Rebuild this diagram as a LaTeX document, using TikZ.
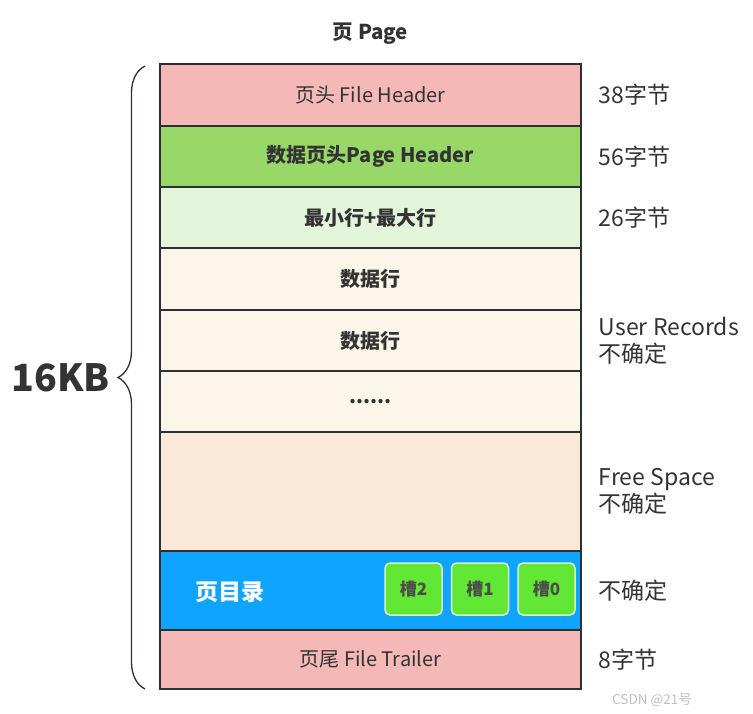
\documentclass[tikz,border=0pt]{standalone}
\usepackage{fontspec}
\setmainfont{Noto Sans CJK SC}
\usepackage{tikz}
\usetikzlibrary{positioning,decorations.pathreplacing}

\definecolor{linec}{HTML}{2B2F36}
\definecolor{textc}{HTML}{333333}
\definecolor{headc}{HTML}{F4B8B6}
\definecolor{pghc}{HTML}{97D869}
\definecolor{minmaxc}{HTML}{E3F5DA}
\definecolor{recc}{HTML}{FBF6E9}
\definecolor{freec}{HTML}{FAE8D9}
\definecolor{dirc}{HTML}{0FA4FF}
\definecolor{slotc}{HTML}{62E834}
\definecolor{slotb}{HTML}{D6F5C9}

\tikzset{
  row/.style={draw=linec, line width=1.5pt, minimum width=421pt, inner sep=0pt,
    text=textc, font=\fontsize{20}{24}\selectfont},
  boldrow/.style={row, font=\fontsize{20}{24}\selectfont\bfseries},
  slot/.style={draw=slotb, fill=slotc, line width=1.5pt, rounded corners=5pt,
    minimum width=57pt, minimum height=52pt, inner sep=0pt,
    text=black!70, font=\fontsize{17}{20}\selectfont\bfseries},
  sizelab/.style={anchor=west, align=left, inner sep=0pt, text=textc,
    font=\fontsize{23}{27}\selectfont}
}

\begin{document}
\begin{tikzpicture}[x=1pt,y=-1pt]
  \useasboundingbox (0,0) rectangle (753,714);

  \node (title) at (370.5,34) [text=textc, font=\fontsize{20.5}{24}\selectfont\bfseries] {页 Page};

  % page rows, top to bottom
  \node (fh) [row, fill=headc, minimum height=62pt] at (370.5,95) {页头 File Header};
  \node (ph) [boldrow, fill=pghc, minimum height=61pt] at (370.5,156.5) {数据页头Page Header};
  \node (mm) [boldrow, fill=minmaxc, minimum height=61pt] at (370.5,217.5) {最小行+最大行};
  \node (r1) [boldrow, fill=recc, minimum height=62pt] at (370.5,279) {数据行};
  \node (r2) [boldrow, fill=recc, minimum height=61pt] at (370.5,340.5) {数据行};
  \node (r3) [boldrow, fill=recc, minimum height=61pt] at (370.5,401.5) {......};
  \node (fs) [row, fill=freec, minimum height=119pt] at (370.5,491.5) {};
  \node (pd) [row, fill=dirc, minimum height=79pt] at (370.5,590.5) {};
  \node (ft) [row, fill=headc, minimum height=59pt] at (370.5,659.5) {页尾 File Trailer};

  % page directory
  \node (pdlab) at (230,592) [text=white, font=\fontsize{23}{27}\selectfont\bfseries] {页目录};
  \node (s2) [slot] at (413.5,589) {槽2};
  \node (s1) [slot, right=8pt of s2] {槽1};
  \node (s0) [slot, right=8pt of s1] {槽0};

  % sizes
  \node (lfh) [sizelab, right=17pt of fh] {38字节};
  \node (lph) [sizelab, right=17pt of ph] {56字节};
  \node (lmm) [sizelab, right=17pt of mm] {26字节};
  \node (lrec) [sizelab, right=17pt of r2] {User Records\\不确定};
  \node (lfs) [sizelab, right=17pt of fs] {Free Space\\不确定};
  \node (lpd) [sizelab, right=17pt of pd] {不确定};
  \node (lft) [sizelab, right=17pt of ft] {8字节};

  % whole page
  \coordinate (btop) at (145,66);
  \coordinate (bbot) at (145,689);
  \draw[linec, line width=1.3pt, decorate, decoration={brace, amplitude=27pt}] (bbot) -- (btop);
  \node (kb) [anchor=east, inner sep=0pt, text=textc, font=\fontsize{37.5}{42}\selectfont\bfseries] at (110,378) {16KB};

  \node (wm) at (652,700) [text=black!25, font=\fontsize{13.5}{16}\selectfont] {CSDN @21号};
\end{tikzpicture}
\end{document}
